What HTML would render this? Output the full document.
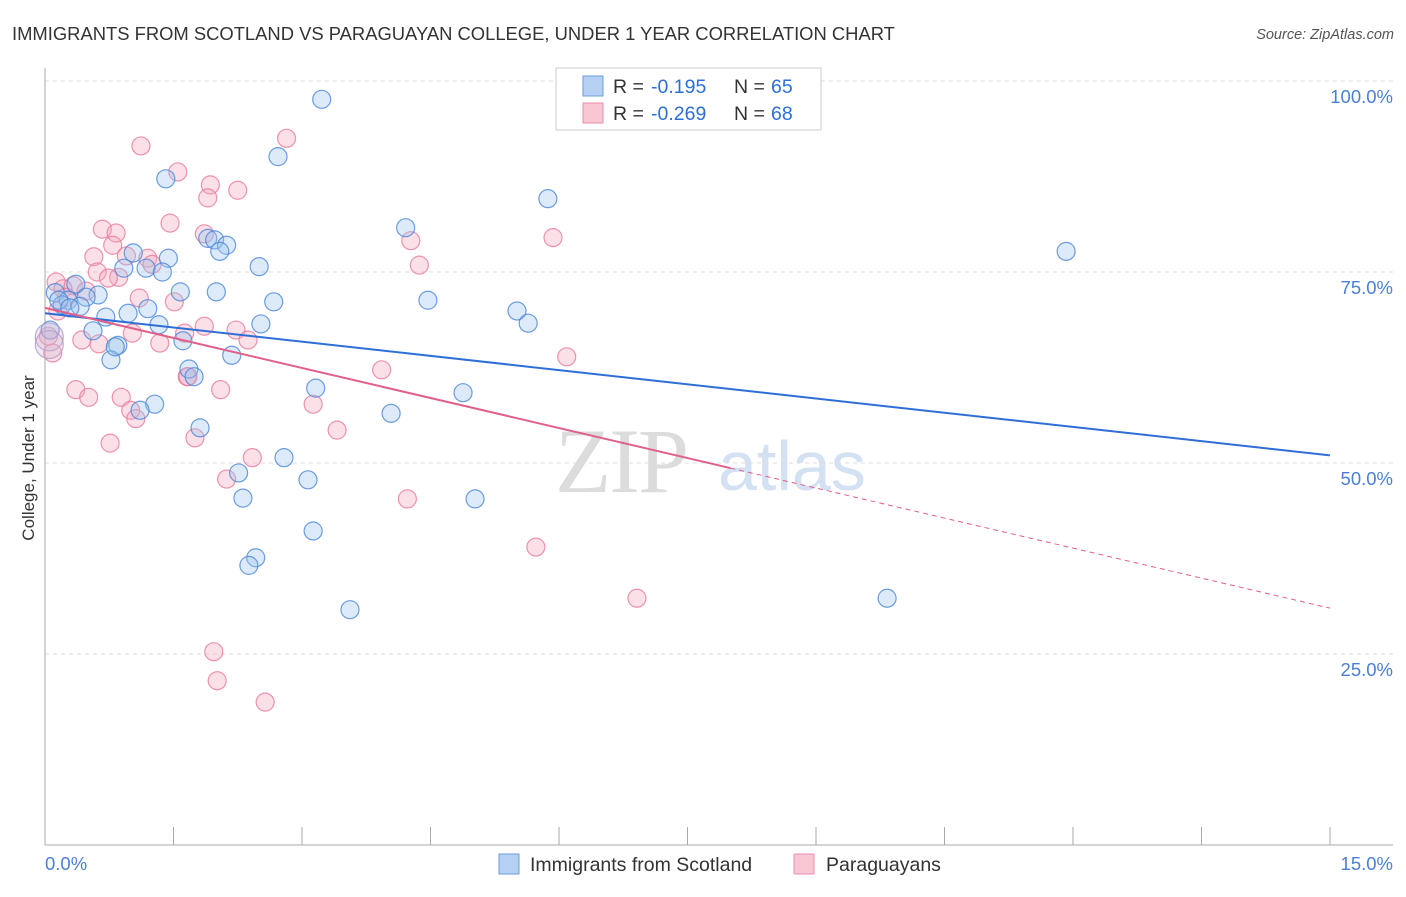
<!DOCTYPE html>
<html><head><meta charset="utf-8"><style>
body{margin:0;background:#fff;font-family:"Liberation Sans",sans-serif}
</style></head><body>
<svg id="c" width="1406" height="892" xmlns="http://www.w3.org/2000/svg" font-family="Liberation Sans, sans-serif"></svg>
<script>
const xTickLabels=["0.0%","15.0%"];
const yTickValues=[25,50,75,100];
const yTickLabels=["25.0%","50.0%","75.0%","100.0%"];
const blueX=[3.23,2.72,1.41,5.87,11.92,4.21,1.90,1.98,2.12,2.04,1.44,1.03,2.50,0.92,1.18,1.37,0.36,1.58,2.00,0.62,0.12,0.48,0.27,0.20,2.67,4.47,1.20,0.97,0.41,0.71,5.51,5.64,2.52,0.56,1.33,0.06,1.61,2.18,0.85,0.77,1.68,1.74,3.16,4.88,1.28,1.11,4.04,1.81,2.79,2.26,3.07,2.31,5.02,3.13,2.46,2.38,3.56,9.83,0.16,0.29,0.82];
const blueY=[97.6,90.1,87.2,84.6,77.7,80.8,79.4,79.2,78.5,77.7,76.8,77.5,75.7,75.5,75.5,75.0,73.4,72.4,72.4,72.0,72.3,71.7,71.3,70.7,71.1,71.3,70.2,69.6,70.5,69.1,69.9,68.3,68.2,67.3,68.1,67.4,66.0,64.1,65.4,63.5,62.3,61.3,59.8,59.2,57.7,56.9,56.5,54.6,50.7,48.7,47.8,45.4,45.3,41.1,37.6,36.6,30.8,32.3,71.3,70.3,65.2];
const pinkX=[1.12,2.82,1.55,1.93,2.25,1.90,1.46,0.67,0.83,1.86,4.27,5.93,0.79,0.95,1.20,0.57,4.37,1.25,0.61,0.13,0.86,0.33,0.21,0.48,1.10,1.51,1.86,2.23,1.63,1.02,0.43,0.63,1.34,2.37,6.09,3.93,1.66,0.36,0.51,0.89,2.05,3.13,1.00,1.06,3.41,1.75,0.76,2.42,2.12,4.23,5.73,6.91,1.97,2.01,2.57,0.09,0.04,0.15,0.25,0.74,1.67];
const pinkY=[91.5,92.5,88.1,86.4,85.7,84.7,81.4,80.6,80.1,80.0,79.1,79.5,78.5,77.1,76.8,77.0,75.9,76.0,75.0,73.7,74.3,73.2,72.8,72.5,71.6,71.1,67.9,67.4,67.0,67.0,66.1,65.6,65.7,66.1,63.9,62.2,61.3,59.6,58.6,58.6,59.6,57.7,56.9,55.8,54.3,53.3,52.6,50.7,47.9,45.3,39.0,32.3,25.3,21.5,18.7,64.4,66.6,69.9,71.7,74.2,61.3];
const bigX=[0.05,0.05];
const bigY=[66.5,65.5];
const blueLine=[69.6,51.0];
const pinkLine=[70.3,31.0];
const pinkSolidEnd=8.0;

const svg=document.getElementById('c');
const NS="http://www.w3.org/2000/svg";
const X0=45,X1=1330,Y0=845,Y100=81;
const sx=v=>X0+(X1-X0)*v/15;
const sy=v=>Y0-(Y0-Y100)*v/100;
function el(t,a,txt){const e=document.createElementNS(NS,t);for(const k in a)e.setAttribute(k,a[k]);if(txt!=null)e.textContent=txt;svg.appendChild(e);return e;}

let e;
e=el('text',{x:12,y:40,'font-size':18.4,fill:'#333'},'IMMIGRANTS FROM SCOTLAND VS PARAGUAYAN COLLEGE, UNDER 1 YEAR CORRELATION CHART');


e=el('text',{x:1394,y:39,'font-size':14.5,fill:'#555','font-style':'italic','text-anchor':'end'},'Source: ZipAtlas.com');



e=el('text',{x:555,y:492,'font-size':92,fill:'#dcdcdc','font-family':'Liberation Serif, serif','letter-spacing':'-2'},'ZIP');


e=el('text',{x:718,y:490,'font-size':70,fill:'#d3e1f3'},'atlas');



yTickValues.forEach((v,i)=>{
  e=el('line',{x1:X0,x2:1393,y1:sy(v),y2:sy(v),stroke:'#ddd','stroke-dasharray':'4,4'});
  
  
  e=el('text',{x:1393,y:sy(v)+22,'font-size':18.5,fill:'#4a7fd4','text-anchor':'end'},yTickLabels[i]);
  
  
});
e=el('line',{x1:X0,x2:X0,y1:68,y2:Y0,stroke:'#aaa'});


e=el('line',{x1:X0,x2:1393,y1:Y0,y2:Y0,stroke:'#aaa'});


for(let i=0;i<=10;i++){
  e=el('line',{x1:sx(i*1.5),x2:sx(i*1.5),y1:Y0,y2:Y0-18,stroke:'#aaa'});
  
  
}
e=el('text',{x:45,y:870,'font-size':18.5,fill:'#4a7fd4'},xTickLabels[0]);


e=el('text',{x:1393,y:870,'font-size':18.5,fill:'#4a7fd4','text-anchor':'end'},xTickLabels[1]);


e=el('text',{x:34,y:458,'font-size':17,fill:'#333','text-anchor':'middle',transform:'rotate(-90 34 458)'},'College, Under 1 year');



function dots(xs,ys,fill,stroke,r,name,op){
  xs.forEach((v,i)=>{
    const c=el('circle',{cx:sx(v),cy:sy(ys[i]),r:r,fill:fill,'fill-opacity':op,stroke:stroke,'stroke-opacity':0.8,'stroke-width':1.2});
    
    
  });
}
dots(pinkX,pinkY,'#f4a6bd','#e8799b',9,'paraguayans-point',0.35);
dots(blueX,blueY,'#9cc2ef','#4a86d8',9,'scotland-point',0.35);
dots(bigX,bigY,'#d4b4cf','#b09ac8',14,'cluster-point',0.3);

e=el('line',{x1:sx(0),y1:sy(blueLine[0]),x2:sx(15),y2:sy(blueLine[1]),stroke:'#2d6fd6','stroke-width':2});


const py=x=>pinkLine[0]+(pinkLine[1]-pinkLine[0])*x/15;
e=el('line',{x1:sx(0),y1:sy(py(0)),x2:sx(pinkSolidEnd),y2:sy(py(pinkSolidEnd)),stroke:'#e0608a','stroke-width':2});


e=el('line',{x1:sx(pinkSolidEnd),y1:sy(py(pinkSolidEnd)),x2:sx(15),y2:sy(py(15)),stroke:'#e0608a','stroke-width':1,'stroke-dasharray':'5,4'});



e=el('rect',{x:556,y:68,width:265,height:62,fill:'#fff',stroke:'#ccc'});


[['#b5d0f3','#6a9ee0','-0.195','65',86],['#f9c6d4','#eb8fac','-0.269','68',113]].forEach(r=>{
  e=el('rect',{x:583,y:r[4]-10,width:20,height:20,fill:r[0],stroke:r[1]});
  
  
  e=el('text',{x:613,y:r[4]+7,'font-size':19.5,fill:'#333'},'R = ');
  
  
  e=el('text',{x:651,y:r[4]+7,'font-size':19.5,fill:'#2d6fd6'},r[2]);
  
  
  e=el('text',{x:734,y:r[4]+7,'font-size':19.5,fill:'#333'},'N = ');
  
  
  e=el('text',{x:771,y:r[4]+7,'font-size':19.5,fill:'#2d6fd6'},r[3]);
  
  
});
[[499,'#b5d0f3','#6a9ee0','Immigrants from Scotland',530,'legend-entry-scotland'],[794,'#f9c6d4','#eb8fac','Paraguayans',826,'legend-entry-paraguayans']].forEach(r=>{
  e=el('rect',{x:r[0],y:854,width:20,height:20,fill:r[1],stroke:r[2]});
  
  
  e=el('text',{x:r[4],y:871,'font-size':19.5,fill:'#333'},r[3]);
  
  
});
</script>
</body></html>
